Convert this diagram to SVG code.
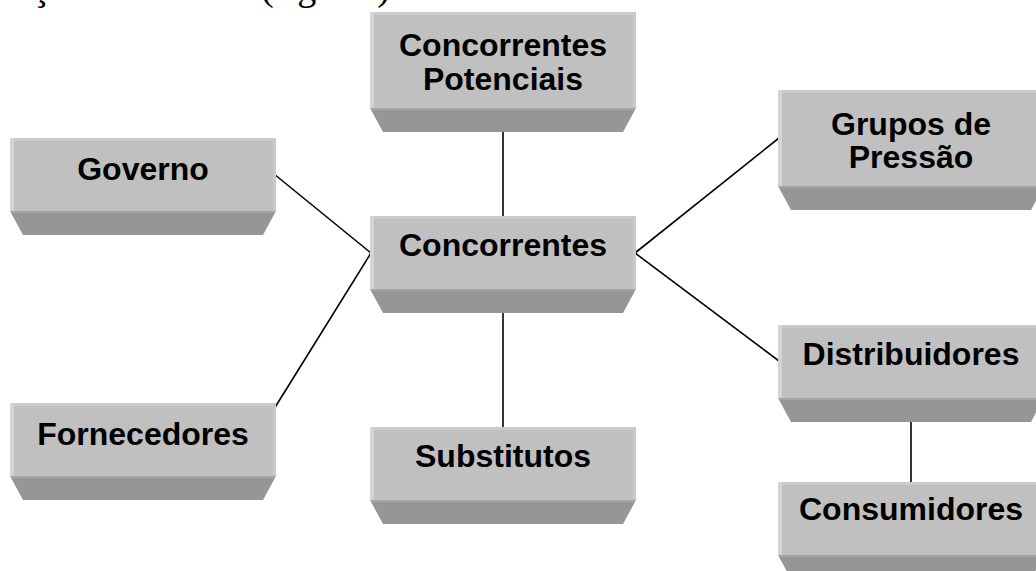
<svg xmlns="http://www.w3.org/2000/svg" width="1036" height="571" viewBox="0 0 1036 571">
  <defs>
    <style>
      .face { fill: #c0c0c0; }
      .hl-top { fill: #cbcbcb; }
      .hl-left { fill: #d4d4d4; }
      .hl-right { fill: #c9c9c9; }
      .base { fill: #969696; }
      .base-edge { fill: #a3a3a3; }
      .label { font-family: "Liberation Sans", Arial, sans-serif; font-weight: bold; font-size: 32px; fill: #000; text-anchor: middle; }
      .body { font-family: "Liberation Serif", "Times New Roman", serif; font-size: 38px; fill: #000; }
      .link { stroke: #000; stroke-width: 1.6; fill: none; }
    </style>
    <!-- single-line block: face 266x73 with bevel base -->
    <g id="block73">
      <polygon class="base" points="0,73 266,73 253,97 13,97"/>
      <rect class="base-edge" x="1" y="73" width="264" height="2"/>
      <rect class="face" x="0" y="0" width="266" height="73"/>
      <rect class="hl-top" x="0" y="0" width="266" height="3"/>
      <rect class="hl-left" x="0" y="0" width="4" height="73"/>
      <rect class="hl-right" x="263" y="0" width="3" height="73"/>
    </g>
    <!-- two-line block: face 266x96 with bevel base -->
    <g id="block96">
      <polygon class="base" points="0,96 266,96 253,120 13,120"/>
      <rect class="base-edge" x="1" y="96" width="264" height="2"/>
      <rect class="face" x="0" y="0" width="266" height="96"/>
      <rect class="hl-top" x="0" y="0" width="266" height="3"/>
      <rect class="hl-left" x="0" y="0" width="4" height="96"/>
      <rect class="hl-right" x="263" y="0" width="3" height="96"/>
    </g>
  </defs>

  <rect x="0" y="0" width="1036" height="571" fill="#fff"/>

  <!-- tail of the preceding line of body text, sitting just above the top edge -->
  <g id="caption">
    <text class="body" x="32" y="0">ç</text>
    <text class="body" x="261" y="0" textLength="129" lengthAdjust="spacing">(Figura 1)</text>
  </g>

  <g id="connectors">
    <line class="link" x1="503" y1="108" x2="503" y2="216"/>
    <line class="link" x1="503" y1="289" x2="503" y2="427"/>
    <line class="link" x1="274" y1="174" x2="371" y2="253"/>
    <line class="link" x1="274" y1="409" x2="371" y2="253"/>
    <line class="link" x1="635" y1="253" x2="779" y2="138"/>
    <line class="link" x1="635" y1="253" x2="779" y2="361"/>
    <line class="link" x1="911" y1="397" x2="911" y2="482"/>
  </g>

  <g id="concorrentes-potenciais">
    <use href="#block96" x="370" y="12"/>
    <text class="label" x="503" y="56">Concorrentes</text>
    <text class="label" x="503" y="90">Potenciais</text>
  </g>

  <g id="governo">
    <use href="#block73" x="10" y="138"/>
    <text class="label" x="143" y="180">Governo</text>
  </g>

  <g id="concorrentes">
    <use href="#block73" x="370" y="216"/>
    <text class="label" x="503" y="256">Concorrentes</text>
  </g>

  <g id="grupos-de-pressao">
    <use href="#block96" x="778" y="90"/>
    <text class="label" x="911" y="135">Grupos de</text>
    <text class="label" x="911" y="168">Pressão</text>
  </g>

  <g id="distribuidores">
    <use href="#block73" x="778" y="325"/>
    <text class="label" x="911" y="365">Distribuidores</text>
  </g>

  <g id="fornecedores">
    <use href="#block73" x="10" y="403"/>
    <text class="label" x="143" y="445">Fornecedores</text>
  </g>

  <g id="substitutos">
    <use href="#block73" x="370" y="427"/>
    <text class="label" x="503" y="467">Substitutos</text>
  </g>

  <g id="consumidores">
    <use href="#block73" x="778" y="482"/>
    <text class="label" x="911" y="520">Consumidores</text>
  </g>
</svg>
